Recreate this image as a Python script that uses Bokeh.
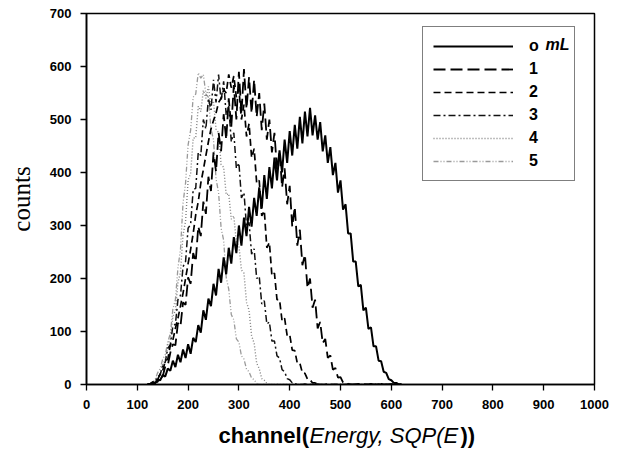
from bokeh.plotting import figure
from bokeh.layouts import column
from bokeh.models import Range1d, FixedTicker, Legend, LegendItem, Label
from bokeh.embed import file_html
from bokeh.resources import INLINE

# ---------------- data ----------------
channel = list(range(120, 625, 5))   # channel bins 120..620 step 5

x_ticks = [0, 100, 200, 300, 400, 500, 600, 700, 800, 900, 1000]
y_ticks = [0, 100, 200, 300, 400, 500, 600, 700]

series_labels = ["o", "1", "2", "3", "4", "5"]

counts_mL = [
    0, 1, 3, 2, 9, 8, 18, 15, 30, 26,
    45, 33, 56, 42, 66, 50, 76, 58, 88, 80,
    112, 98, 140, 122, 162, 148, 190, 168, 218, 192,
    240, 208, 258, 228, 278, 248, 300, 262, 315, 280,
    335, 298, 352, 318, 372, 332, 395, 350, 410, 370,
    428, 385, 442, 400, 462, 418, 478, 432, 490, 445,
    505, 455, 515, 468, 522, 470, 508, 462, 495, 440,
    470, 418, 448, 395, 418, 362, 385, 330, 340, 285,
    285, 232, 232, 185, 188, 140, 145, 105, 108, 72,
    72, 45, 44, 24, 22, 10, 8, 3, 3, 0,
    0,
]

counts_1 = [
    0, 0, 2, 4, 5, 14, 15, 34, 36, 60,
    76, 74, 116, 110, 155, 150, 202, 190, 248, 232,
    298, 280, 345, 322, 392, 365, 438, 402, 475, 440,
    510, 462, 540, 485, 565, 500, 590, 510, 595, 520,
    580, 512, 575, 505, 550, 480, 530, 462, 500, 438,
    475, 405, 440, 372, 408, 340, 375, 298, 335, 262,
    292, 225, 245, 182, 200, 145, 160, 106, 118, 78,
    86, 50, 55, 28, 31, 13, 14, 4, 5, 1,
    0, 0, 0, 1, 0, 0, 0, 0, 1, 0,
    0, 0, 1, 0, 0, 0, 0, 0, 0, 0,
    0,
]

counts_2 = [
    0, 1, 3, 6, 9, 20, 26, 44, 48, 74,
    84, 106, 125, 148, 172, 200, 228, 255, 285, 320,
    345, 380, 405, 432, 458, 482, 498, 512, 532, 540,
    556, 550, 585, 560, 582, 542, 558, 500, 528, 468,
    492, 428, 445, 380, 385, 318, 328, 258, 268, 205,
    210, 160, 160, 120, 125, 92, 94, 65, 64, 40,
    40, 22, 21, 10, 9, 3, 3, 1, 0, 0,
    0, 1, 0, 0, 0, 0, 1, 0, 0, 0,
    0, 0, 0, 0, 1, 0, 0, 0, 0, 0,
    0, 0, 0, 0, 0, 0, 1, 0, 0, 0,
    0,
]

counts_3 = [
    0, 1, 5, 5, 14, 18, 36, 42, 68, 75,
    110, 114, 160, 168, 222, 232, 295, 302, 368, 370,
    438, 432, 500, 482, 540, 518, 575, 532, 585, 535,
    572, 508, 525, 458, 475, 408, 418, 352, 362, 298,
    306, 246, 256, 200, 204, 152, 158, 114, 118, 82,
    82, 54, 50, 28, 24, 11, 9, 3, 2, 0,
    0, 0, 1, 0, 0, 0, 0, 1, 0, 0,
    0, 0, 0, 0, 0, 1, 0, 0, 0, 0,
    0, 0, 0, 0, 0, 0, 0, 0, 0, 0,
    0, 1, 0, 0, 0, 0, 0, 0, 0, 0,
    0,
]

counts_4 = [
    0, 1, 5, 5, 14, 20, 38, 46, 75, 86,
    128, 140, 192, 212, 282, 308, 385, 398, 465, 465,
    525, 515, 555, 540, 562, 525, 535, 482, 475, 415,
    410, 358, 360, 312, 318, 268, 262, 216, 210, 155,
    140, 92, 78, 40, 30, 11, 8, 2, 0, 0,
    0, 1, 0, 0, 0, 0, 0, 1, 0, 0,
    0, 0, 0, 0, 0, 0, 0, 0, 0, 0,
    0, 0, 0, 0, 0, 0, 0, 0, 0, 0,
    0, 0, 0, 0, 0, 0, 0, 0, 0, 0,
    0, 0, 0, 0, 0, 0, 0, 0, 0, 0,
    0,
]

counts_5 = [
    0, 1, 4, 9, 22, 30, 48, 56, 80, 96,
    142, 160, 220, 255, 342, 380, 452, 480, 542, 548,
    588, 578, 585, 548, 542, 482, 462, 388, 362, 295,
    272, 202, 180, 132, 122, 86, 80, 54, 48, 29,
    24, 12, 9, 2, 0, 0, 1, 0, 0, 0,
    0, 0, 0, 0, 0, 0, 0, 0, 0, 0,
    0, 0, 0, 0, 0, 0, 0, 0, 0, 0,
    0, 0, 0, 0, 0, 0, 0, 0, 0, 0,
    0, 0, 0, 0, 0, 0, 0, 0, 0, 0,
    0, 0, 0, 0, 0, 0, 0, 0, 0, 0,
    0,
]

# ---------------- main figure ----------------
FW, FH = 508, 371
BL, BR, BT, BB = 86, 17, 13, 34

p = figure(frame_width=FW, frame_height=FH,
           x_range=Range1d(0, 1000), y_range=Range1d(0, 700),
           output_backend="svg", toolbar_location=None,
           min_border_left=BL, min_border_right=BR,
           min_border_top=BT, min_border_bottom=BB)

p.background_fill_color = "white"
p.border_fill_color = "white"
p.outline_line_color = "black"
p.outline_line_width = 1.5
p.outline_line_alpha = 1.0
p.xgrid.visible = False
p.ygrid.visible = False

p.xaxis.ticker = FixedTicker(ticks=x_ticks)
p.yaxis.ticker = FixedTicker(ticks=y_ticks)
for ax in (p.xaxis[0], p.yaxis[0]):
    ax.axis_line_color = "black"
    ax.axis_line_width = 1.6
    ax.major_tick_line_color = "black"
    ax.major_tick_line_width = 1.3
    ax.major_tick_out = 6
    ax.major_tick_in = 0
    ax.minor_tick_line_color = None
    ax.major_label_text_font = "Liberation Sans"
    ax.major_label_text_font_size = "13px"
    ax.major_label_text_font_style = "bold"
    ax.major_label_text_color = "black"
    ax.major_label_standoff = 9

p.yaxis.axis_label = "counts"
p.yaxis.axis_label_text_font = "Liberation Serif"
p.yaxis.axis_label_text_font_size = "25px"
p.yaxis.axis_label_text_font_style = "normal"
p.yaxis.axis_label_text_color = "black"
p.yaxis.axis_label_standoff = 12

styles = [
    ("#9a9a9a", 1.3, "5 2 1 2 1 2"),  # 5
    ("#808080", 1.4, "1 2"),          # 4
    ("#111111", 1.5, "7 3 2 3"),      # 3
    ("#000000", 1.7, "7 4"),          # 2
    ("#000000", 1.8, "12 5"),         # 1
    ("#000000", 2.0, "solid"),        # mL
]
data_order = [counts_5, counts_4, counts_3, counts_2, counts_1, counts_mL]
renderers = []
for ys, (c, w, d) in zip(data_order, styles):
    r = p.line(channel, ys, line_color=c, line_width=w, line_dash=d)
    renderers.append(r)

r5, r4, r3, r2, r1, rmL = renderers
legend_rends = [rmL, r1, r2, r3, r4, r5]
legend = Legend(items=[LegendItem(label=lab, renderers=[r])
                       for lab, r in zip(series_labels, legend_rends)],
                location=(336, 203),
                glyph_width=80, glyph_height=18, spacing=5,
                padding=10, margin=0, label_standoff=16, label_width=35,
                label_text_font="Liberation Sans", label_text_font_size="16px",
                label_text_font_style="bold", label_text_color="black",
                border_line_color="black", border_line_width=1.5,
                background_fill_alpha=0.0)
p.add_layout(legend, "center")

# italic "mL" next to the "o" in the legend (screen units from frame bottom-left)
p.add_layout(Label(x=459, y=340, x_units="screen", y_units="screen",
                   text="mL", text_font="Liberation Sans", text_font_size="16px",
                   text_font_style="bold italic", text_color="black",
                   text_align="left", text_baseline="middle", level="overlay"))

# ---------------- x axis title strip ----------------
q = figure(width=BL + FW + BR, height=30,
           x_range=Range1d(0, 1), y_range=Range1d(0, 1),
           x_axis_location=None, y_axis_location=None,
           output_backend="svg", toolbar_location=None,
           min_border_left=0, min_border_right=0,
           min_border_top=0, min_border_bottom=0)
q.xgrid.visible = False
q.ygrid.visible = False
q.outline_line_color = None
q.background_fill_color = "white"
q.border_fill_color = "white"

# q's frame is aligned with p's frame by the column layout
xl_y = 13
q.add_layout(Label(x=132, y=xl_y, x_units="screen", y_units="screen",
                   text="channel(", text_font="Liberation Sans", text_font_size="22px",
                   text_font_style="bold", text_color="black",
                   text_align="left", text_baseline="alphabetic"))
q.add_layout(Label(x=223, y=xl_y, x_units="screen", y_units="screen",
                   text="Energy, SQP(E", text_font="Liberation Sans", text_font_size="22px",
                   text_font_style="italic", text_color="black",
                   text_align="left", text_baseline="alphabetic"))
q.add_layout(Label(x=374, y=xl_y, x_units="screen", y_units="screen",
                   text="))", text_font="Liberation Sans", text_font_size="22px",
                   text_font_style="bold", text_color="black",
                   text_align="left", text_baseline="alphabetic"))

layout = column(p, q, spacing=0)
open("out.html", "w").write(file_html(layout, INLINE))
